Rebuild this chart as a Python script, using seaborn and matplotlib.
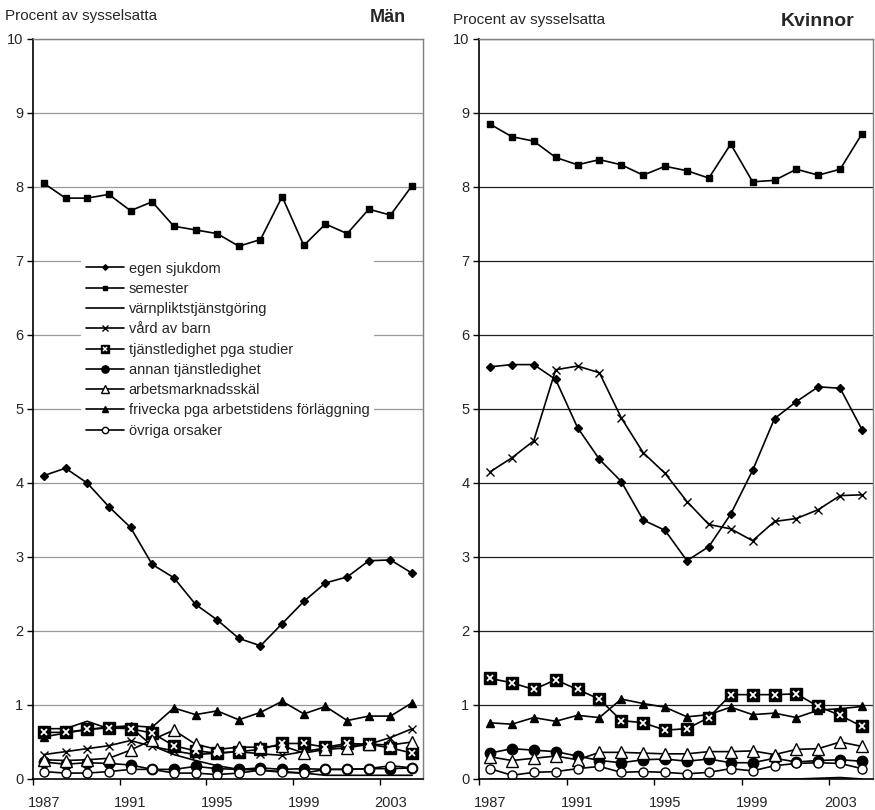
import numpy as np
import seaborn as sns
import matplotlib
matplotlib.use("Agg")
import matplotlib.pyplot as plt
from matplotlib.lines import Line2D
from matplotlib.legend_handler import HandlerTuple

ar = list(range(1987, 2005))
ar_etiketter = ["1987", "1991", "1995", "1999", "2003"]

orsaker = ["egen sjukdom", "semester", "värnpliktstjänstgöring", "vård av barn",
           "tjänstledighet pga studier", "annan tjänstledighet", "arbetsmarknadsskäl",
           "frivecka pga arbetstidens förläggning", "övriga orsaker"]

# Män
man_sjukdom = [4.10, 4.20, 4.00, 3.68, 3.40, 2.90, 2.72, 2.36, 2.15, 1.90, 1.80, 2.10, 2.40, 2.65, 2.73, 2.95, 2.96, 2.78]
man_semester = [8.05, 7.85, 7.85, 7.90, 7.68, 7.80, 7.47, 7.42, 7.37, 7.20, 7.29, 7.87, 7.21, 7.50, 7.37, 7.70, 7.62, 8.02]
man_varnplikt = [0.68, 0.68, 0.78, 0.68, 0.70, 0.45, 0.33, 0.25, 0.18, 0.13, 0.12, 0.09, 0.08, 0.05, 0.05, 0.05, 0.05, 0.05]
man_vard = [0.33, 0.37, 0.41, 0.45, 0.52, 0.44, 0.38, 0.33, 0.35, 0.37, 0.34, 0.32, 0.37, 0.42, 0.45, 0.47, 0.56, 0.68]
man_studier = [0.63, 0.63, 0.67, 0.69, 0.68, 0.62, 0.45, 0.38, 0.35, 0.37, 0.40, 0.48, 0.48, 0.43, 0.48, 0.47, 0.42, 0.35]
man_annan = [0.23, 0.20, 0.22, 0.21, 0.19, 0.13, 0.13, 0.17, 0.14, 0.13, 0.15, 0.13, 0.14, 0.13, 0.13, 0.14, 0.14, 0.15]
man_arbetsmarknad = [0.26, 0.25, 0.26, 0.28, 0.39, 0.53, 0.66, 0.47, 0.40, 0.43, 0.43, 0.45, 0.35, 0.40, 0.42, 0.47, 0.46, 0.50]
man_frivecka = [0.57, 0.62, 0.67, 0.70, 0.72, 0.70, 0.96, 0.87, 0.92, 0.80, 0.90, 1.05, 0.88, 0.98, 0.79, 0.85, 0.85, 1.03]
man_ovriga = [0.10, 0.08, 0.08, 0.10, 0.13, 0.13, 0.08, 0.08, 0.06, 0.08, 0.12, 0.10, 0.08, 0.13, 0.13, 0.14, 0.18, 0.15]

# Kvinnor
kv_sjukdom = [5.57, 5.60, 5.60, 5.40, 4.75, 4.32, 4.02, 3.50, 3.36, 2.95, 3.14, 3.58, 4.17, 4.87, 5.10, 5.30, 5.28, 4.72]
kv_semester = [8.85, 8.68, 8.62, 8.40, 8.30, 8.37, 8.30, 8.16, 8.28, 8.22, 8.12, 8.58, 8.07, 8.09, 8.24, 8.16, 8.24, 8.72]
kv_varnplikt = [0.00, 0.00, 0.00, 0.00, 0.00, 0.00, 0.00, 0.00, 0.00, 0.00, 0.00, 0.00, 0.00, 0.00, 0.00, 0.01, 0.02, 0.00]
kv_vard = [4.15, 4.34, 4.57, 5.53, 5.58, 5.49, 4.88, 4.41, 4.13, 3.75, 3.44, 3.38, 3.22, 3.48, 3.52, 3.64, 3.83, 3.84]
kv_studier = [1.36, 1.30, 1.21, 1.34, 1.21, 1.08, 0.79, 0.76, 0.66, 0.68, 0.83, 1.14, 1.14, 1.14, 1.15, 0.98, 0.86, 0.71]
kv_annan = [0.35, 0.41, 0.39, 0.37, 0.31, 0.25, 0.22, 0.26, 0.27, 0.24, 0.27, 0.22, 0.22, 0.28, 0.23, 0.25, 0.26, 0.24]
kv_arbetsmarknad = [0.30, 0.25, 0.28, 0.31, 0.26, 0.36, 0.36, 0.35, 0.34, 0.34, 0.37, 0.37, 0.38, 0.33, 0.40, 0.41, 0.50, 0.44]
kv_frivecka = [0.76, 0.74, 0.83, 0.78, 0.86, 0.83, 1.08, 1.02, 0.97, 0.84, 0.87, 0.97, 0.87, 0.89, 0.83, 0.93, 0.95, 0.98]
kv_ovriga = [0.14, 0.05, 0.09, 0.10, 0.14, 0.17, 0.09, 0.10, 0.09, 0.07, 0.09, 0.14, 0.11, 0.18, 0.21, 0.22, 0.21, 0.14]

man = [man_sjukdom, man_semester, man_varnplikt, man_vard, man_studier,
       man_annan, man_arbetsmarknad, man_frivecka, man_ovriga]
kvinnor = [kv_sjukdom, kv_semester, kv_varnplikt, kv_vard, kv_studier,
           kv_annan, kv_arbetsmarknad, kv_frivecka, kv_ovriga]

# marker per orsak: (marker, size, facecolor)
stilar = [("D", 4, "black"), ("s", 5, "black"), (None, 0, "black"), ("x", 6, "black"),
          ("s", 9, "black"), ("o", 7.5, "black"), ("^", 9, "white"), ("^", 6, "black"),
          ("o", 6.5, "white")]

sns.set_style("white")
plt.rcParams["font.family"] = ["Liberation Sans", "DejaVu Sans"]
plt.rcParams["font.size"] = 10

fig = plt.figure(figsize=(8.75, 8.1), dpi=100)
ax1 = fig.add_axes([33 / 875, 31 / 810, 390 / 875, 740 / 810])
ax2 = fig.add_axes([479 / 875, 31 / 810, 394 / 875, 740 / 810])

x = np.arange(len(ar))


def rita(ax, serier, gridfarg):
    handtag = []
    for namn, varden, (mk, ms, fc) in zip(orsaker, serier, stilar):
        sns.lineplot(x=x, y=varden, ax=ax, color="black", linewidth=1.2,
                     marker=mk, markersize=ms, markerfacecolor=fc,
                     markeredgecolor="black", markeredgewidth=1.0, legend=False)
        h = Line2D([], [], color="black", lw=1.2, marker=mk, markersize=ms * 0.7,
                   markerfacecolor=fc, markeredgecolor="black")
        if namn == "tjänstledighet pga studier":
            # vitt kryss i svart ruta
            ax.plot(x, varden, ls="none", marker="x", markersize=4.5,
                    markeredgecolor="white", markeredgewidth=1.3, zorder=5)
            h = (h, Line2D([], [], ls="none", marker="x", markersize=3.2,
                           markeredgecolor="white", markeredgewidth=1.1))
        handtag.append(h)

    ax.set_xlim(-0.5, len(ar) - 0.5)
    ax.set_ylim(0, 10)
    ax.set_yticks(range(0, 11))
    ax.set_xticks([0, 4, 8, 12, 16])
    ax.set_xticklabels(ar_etiketter)
    ax.set_xticks([-0.5, 3.5, 7.5, 11.5, 15.5], minor=True)
    ax.tick_params(axis="x", which="major", length=0, pad=12, labelsize=10.5)
    ax.tick_params(axis="x", which="minor", length=4, width=1, color="black",
                   direction="out", bottom=True)
    ax.tick_params(axis="y", length=4, width=1, color="black", direction="out",
                   left=True, pad=3, labelsize=10.5)
    ax.yaxis.grid(True, color=gridfarg, lw=0.9)
    ax.set_axisbelow(True)
    for s in ["top", "right"]:
        ax.spines[s].set_color("#808080")
        ax.spines[s].set_linewidth(1)
    for s in ["left", "bottom"]:
        ax.spines[s].set_color("black")
        ax.spines[s].set_linewidth(1.2)
    ax.set_xlabel("")
    ax.set_ylabel("")
    return handtag


handtag = rita(ax1, man, "#9a9a9a")
rita(ax2, kvinnor, "#202020")

leg = ax1.legend(handtag, orsaker, loc="upper left", bbox_to_anchor=(0.105, 0.715),
                 frameon=True, facecolor="white", edgecolor="white", framealpha=1,
                 handlelength=2.6, labelspacing=0.43, handletextpad=0.35,
                 borderpad=0.3, fontsize=10.5,
                 handler_map={tuple: HandlerTuple(ndivide=1)})
leg.get_frame().set_linewidth(0)

fig.text(5 / 875, 1 - 16 / 810, "Procent av sysselsatta", fontsize=11, va="center", ha="left")
fig.text(388 / 875, 1 - 17 / 810, "Män", fontsize=13, fontweight="bold", va="center", ha="center")
fig.text(453 / 875, 1 - 20 / 810, "Procent av sysselsatta", fontsize=11, va="center", ha="left")
fig.text(818 / 875, 1 - 21 / 810, "Kvinnor", fontsize=14, fontweight="bold", va="center", ha="center")

fig.savefig("out.png", dpi=100, facecolor="white")
